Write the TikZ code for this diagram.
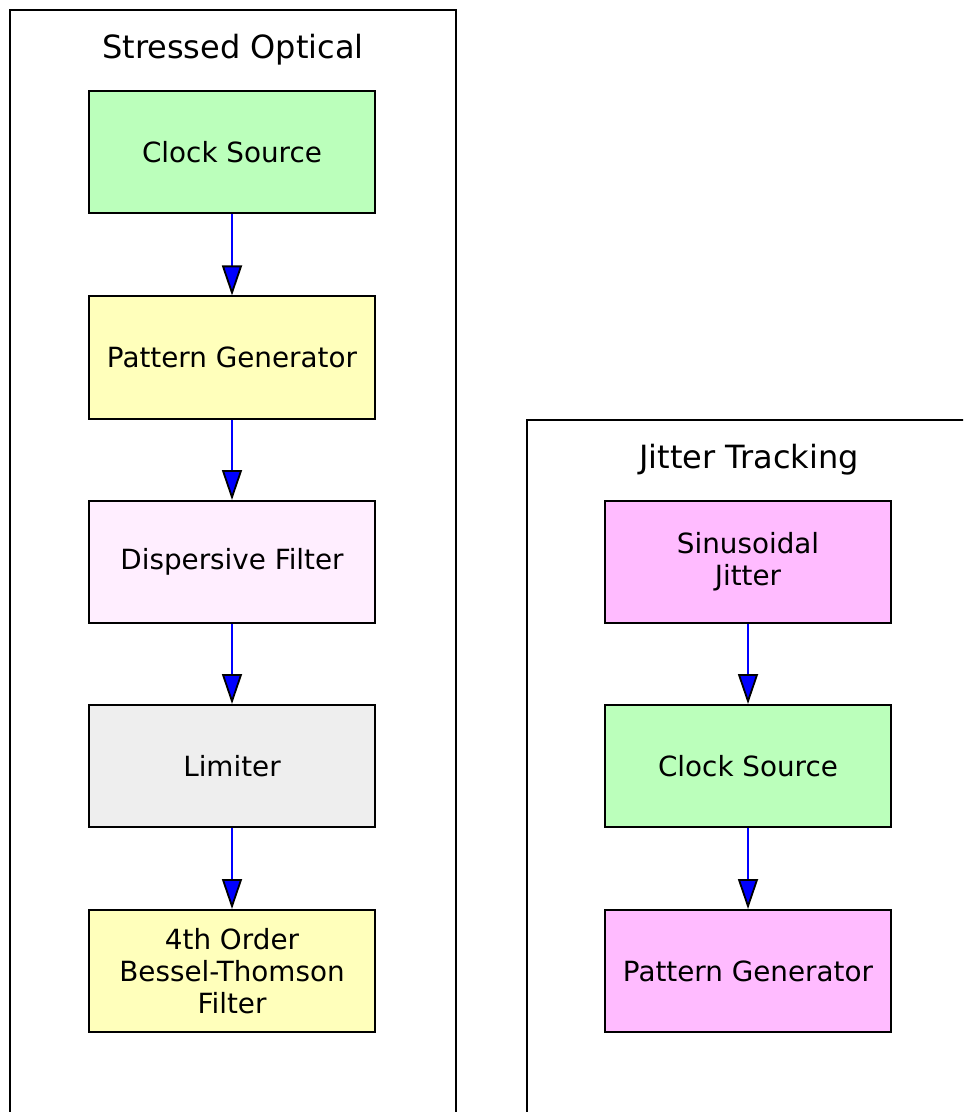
\documentclass[tikz,border=0pt]{standalone}
\usepackage{fontspec}
\setmainfont{DejaVu Sans}
\usetikzlibrary{arrows.meta}
\definecolor{blockgreen}{RGB}{187,255,187}
\definecolor{blockyellow}{RGB}{255,255,187}
\definecolor{blockpink}{RGB}{255,238,255}
\definecolor{blockgray}{RGB}{238,238,238}
\definecolor{blockmagenta}{RGB}{255,187,255}

\begin{document}
\begin{tikzpicture}[x=0.5pt, y=-0.5pt,
        block/.style={draw, line width=1pt, minimum width=143pt, minimum height=61pt,
            align=center, font=\fontsize{13.9}{16}\selectfont},
        cluster/.style={draw, line width=1pt},
        title/.style={font=\fontsize{16}{19}\selectfont},
        flow/.style={blue, line width=0.8pt,
            -{Triangle[length=15pt, width=10pt, fill=blue, color=black, line width=0.9pt]}}]
        \useasboundingbox (0, 0) rectangle (963, 1112);
        \clip (0, 0) rectangle (963, 1112);

        \draw [cluster] (10, 10) rectangle (456, 1140);
        \node [title] (Tso) at (233, 50) {Stressed Optical};

        \node [block, fill=blockgreen] (Sa) at (232, 152.5) {Clock Source};
        \node [block, fill=blockyellow] (Sb) at (232, 357.5) {Pattern Generator};
        \node [block, fill=blockpink] (Sc) at (232, 562) {Dispersive Filter};
        \node [block, fill=blockgray] (Sd) at (232, 766) {Limiter};
        \node [block, fill=blockyellow] (Se) at (232, 971) {4th Order\\Bessel-Thomson\\Filter};

        \draw [flow] (Sa) -- (Sb);
        \draw [flow] (Sb) -- (Sc);
        \draw [flow] (Sc) -- (Sd);
        \draw [flow] (Sd) -- (Se);

        \draw [cluster] (527, 420) rectangle (990, 1140);
        \node [title] (Tjt) at (749, 460) {Jitter Tracking};

        \node [block, fill=blockmagenta] (Ja) at (748, 562) {Sinusoidal\\Jitter};
        \node [block, fill=blockgreen] (Jb) at (748, 766) {Clock Source};
        \node [block, fill=blockmagenta] (Jc) at (748, 971) {Pattern Generator};

        \draw [flow] (Ja) -- (Jb);
        \draw [flow] (Jb) -- (Jc);
    \end{tikzpicture}
\end{document}
